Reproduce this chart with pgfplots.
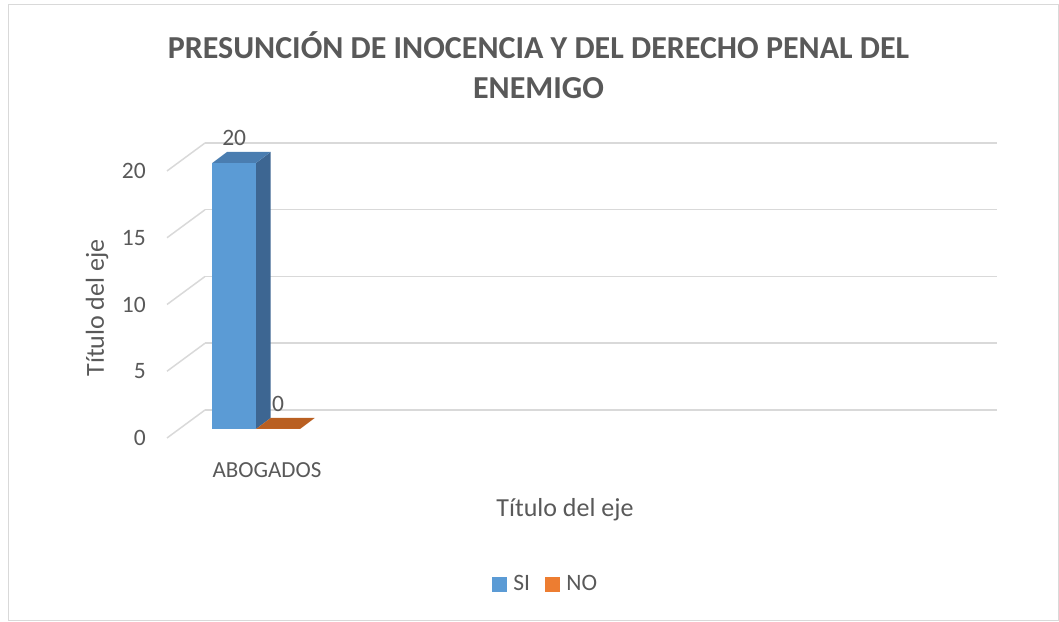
\documentclass[border=0pt]{standalone}
\usepackage{pgfplots}
\pgfplotsset{compat=1.18}
\usepackage{fontspec}
\setmainfont{Carlito}
\definecolor{txt}{HTML}{595959}
\definecolor{gridc}{HTML}{D9D9D9}
\definecolor{blu}{HTML}{5B9BD5}
\definecolor{bluside}{HTML}{3D6692}
\definecolor{blutop}{HTML}{4A7DB0}
\definecolor{org}{HTML}{ED7D31}
\definecolor{orgtop}{HTML}{B95F21}
\newcommand{\fs}[1]{\fontsize{#1bp}{1.2\dimexpr#1bp\relax}\selectfont}
\begin{document}
\begin{tikzpicture}[x=1bp,y=1bp]
\useasboundingbox (0,0) rectangle (1059,622);
\draw[gridc, line width=1.2bp] (8.5,1.5) rectangle (1058.5,617.5);
\node[align=center, text=txt, font={\fontsize{32bp}{40bp}\selectfont\bfseries}] at (538.5,557) {PRESUNCIÓN DE INOCENCIA Y DEL DERECHO PENAL DEL\\ENEMIGO};

% back wall with gridlines
\begin{axis}[
  at={(205bp,212bp)}, anchor=south west, scale only axis,
  width=792bp, height=267bp,
  xmin=0, xmax=792, ymin=0, ymax=20,
  ytick={0,5,10,15,20}, xtick=\empty,
  ymajorgrids, grid style={gridc, line width=1.5bp},
  axis line style={draw=none}, major tick length=0pt,
  clip=false,
  /pgf/number format/assume math mode=true,
  yticklabel style={anchor=east, inner sep=0pt, xshift=-59bp, yshift=-28bp, font=\fs{23.5}, text=txt},
]
\addplot[gridc, line width=1.5bp, forget plot] coordinates {(-38,-2.097) (0,0)};
\addplot[gridc, line width=1.5bp, forget plot] coordinates {(-38,2.903) (0,5)};
\addplot[gridc, line width=1.5bp, forget plot] coordinates {(-38,7.903) (0,10)};
\addplot[gridc, line width=1.5bp, forget plot] coordinates {(-38,12.903) (0,15)};
\addplot[gridc, line width=1.5bp, forget plot] coordinates {(-38,17.903) (0,20)};
\end{axis}

% bars
\begin{axis}[
  at={(179.2bp,193bp)}, anchor=south west, scale only axis,
  width=792bp, height=266bp,
  xmin=0, xmax=792, ymin=0, ymax=20,
  xtick={87.8}, xticklabels={ABOGADOS}, ytick=\empty,
  axis line style={draw=none}, major tick length=0pt,
  clip=false,
  /pgf/number format/assume math mode=true,
  xticklabel style={anchor=north, inner sep=0pt, yshift=-33bp, font=\fs{23}, text=txt},
  xlabel={Título del eje}, ylabel={Título del eje},
  xlabel style={at={(axis description cs:0.4871,-0.3045)}, anchor=center, font=\fs{26}, text=txt},
  ylabel style={at={(axis description cs:-0.1038,0.455)}, anchor=center, rotate=0, font=\fs{26}, text=txt},
  legend style={at={(axis description cs:0.3946,-0.5816)}, anchor=west, draw=none, fill=none,
    legend columns=2, inner sep=0pt, font=\fs{23.5}, text=txt,
    /tikz/every odd column/.append style={column sep=5bp},
    /tikz/every even column/.append style={column sep=13bp}},
  legend cell align=left,
]
\addplot[ybar, bar width=43.7, bar shift=0pt, fill=blu, draw=none, forget plot,
  nodes near coords, nodes near coords style={anchor=south, inner sep=0pt, yshift=17bp, font=\fs{23.5}, text=txt}]
  coordinates {(55,20)};
\addplot[fill=bluside, draw=none, forget plot] coordinates {(76.8,0) (91.5,0.827) (91.5,20.827) (76.8,20)};
\addplot[fill=blutop, draw=none, forget plot] coordinates {(33.1,20) (76.8,20) (91.5,20.827) (47.8,20.827)};
\addplot[fill=orgtop, draw=none, forget plot] coordinates {(76.8,0) (120.8,0) (135.5,0.827) (91.5,0.827)};
\addplot[ybar, bar width=44, bar shift=0pt, fill=org, draw=none, forget plot,
  nodes near coords, nodes near coords style={anchor=south, inner sep=0pt, yshift=17bp, font=\fs{23.5}, text=txt}]
  coordinates {(98.8,0)};
\addlegendimage{legend image code/.code={\fill[blu] (0bp,-7bp) rectangle (14bp,7bp);}}
\addlegendentry{SI}
\addlegendimage{legend image code/.code={\fill[org] (0bp,-7bp) rectangle (14bp,7bp);}}
\addlegendentry{NO}
\end{axis}
\end{tikzpicture}
\end{document}
